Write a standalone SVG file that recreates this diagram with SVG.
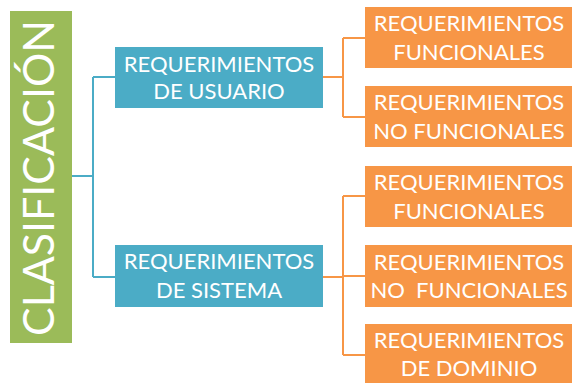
<svg xmlns="http://www.w3.org/2000/svg" width="573" height="383" viewBox="0 0 573 383">
<style>
.t{font-family:Lato,"Open Sans","Liberation Sans",sans-serif;fill:#ffffff;text-anchor:middle;font-size:22px}
.g{fill:#9BBB59}
.b{fill:#4BACC6}
.o{fill:#F79646}
.cb{fill:none;stroke:#4BACC6;stroke-width:2}
.co{fill:none;stroke:#F79646;stroke-width:2}
</style>
<rect width="573" height="383" fill="#ffffff"/>
<g id="connectors">
<path class="cb" d="M72,176 H93 M93,77 V277 M93,77 H115 M93,277 H115"/>
<path class="co" d="M323,77 H343 M343,38 V117 M343,38 H365 M343,117 H365"/>
<path class="co" d="M323,277 H343 M343,196 V355 M343,196 H365 M343,276 H365 M343,355 H365"/>
</g>
<g id="clasificacion">
<rect class="g" x="10" y="11" width="62" height="332"/>
<text class="t" style="font-size:43px" transform="translate(54,178) rotate(-90)" textLength="316" lengthAdjust="spacingAndGlyphs">CLASIFICACIÓN</text>
</g>
<g id="req-usuario">
<rect class="b" x="115" y="47" width="208" height="61"/>
<text class="t" x="219" y="72">REQUERIMIENTOS</text>
<text class="t" x="219" y="99">DE USUARIO</text>
</g>
<g id="req-sistema">
<rect class="b" x="115" y="245" width="208" height="62"/>
<text class="t" x="219" y="269">REQUERIMIENTOS</text>
<text class="t" x="219" y="298">DE SISTEMA</text>
</g>
<g id="usuario-funcionales">
<rect class="o" x="365" y="7" width="207" height="61"/>
<text class="t" x="469" y="31">REQUERIMIENTOS</text>
<text class="t" x="469" y="60">FUNCIONALES</text>
</g>
<g id="usuario-no-funcionales">
<rect class="o" x="365" y="86" width="207" height="61"/>
<text class="t" x="469" y="110">REQUERIMIENTOS</text>
<text class="t" x="469" y="139">NO FUNCIONALES</text>
</g>
<g id="sistema-funcionales">
<rect class="o" x="365" y="166" width="207" height="61"/>
<text class="t" x="469" y="190">REQUERIMIENTOS</text>
<text class="t" x="469" y="219">FUNCIONALES</text>
</g>
<g id="sistema-no-funcionales">
<rect class="o" x="365" y="245" width="207" height="62"/>
<text class="t" x="469" y="270">REQUERIMIENTOS</text>
<text class="t" x="469" y="298" xml:space="preserve">NO  FUNCIONALES</text>
</g>
<g id="sistema-dominio">
<rect class="o" x="365" y="324" width="207" height="62"/>
<text class="t" x="469" y="348">REQUERIMIENTOS</text>
<text class="t" x="469" y="376">DE DOMINIO</text>
</g>
</svg>
